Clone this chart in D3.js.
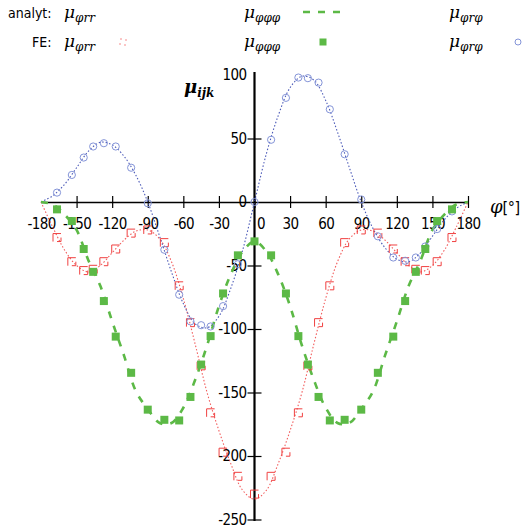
<!DOCTYPE html>
<html>
<head>
<meta charset="utf-8">
<script src="https://cdn.jsdelivr.net/npm/d3@7"></script>
<style>
body { margin: 0; background: white; }
svg { display: block; }
</style>
</head>
<body>
<svg id="chart" width="522" height="530"></svg>
<script>
//-------------------------------DATA---------------------------------------//

// analytic curves, sampled every 10 degrees
const phiLine = [-180,-170,-160,-150,-140,-130,-120,-110,-100,-90,-80,-70,-60,-50,-40,-30,-20,-10,0,
                 10,20,30,40,50,60,70,80,90,100,110,120,130,140,150,160,170,180]
const rrLine  = [0,-20,-38,-50,-55,-50,-40,-30,-23,-22,-29,-47,-76,-112,-150,-180,-206,-227,-234,
                 -227,-206,-180,-150,-112,-76,-47,-29,-22,-23,-30,-40,-50,-55,-50,-38,-20,0]
const pppLine = [0,-2,-10,-22,-46,-66,-94,-121,-149,-163,-174,-174,-162,-140,-113,-82,-57,-39,-31,
                 -39,-57,-82,-113,-140,-162,-174,-174,-163,-149,-121,-94,-66,-46,-22,-10,-2,0]
const rpLine  = [0,5,14,27,40,47,45,36,21,0,-27,-55,-80,-96,-99,-90,-68,-38,0,
                 38,68,90,99,96,80,55,27,0,-21,-36,-45,-47,-40,-27,-14,-5,0]

// finite element results
const phiFE = [-166.5,-154,-144,-136,-127,-117,-104,-90,-76,-63.5,-54,-45,-37,-26.5,-14,0,
               14,26.5,37,45,54,63.5,76,90,104,117,127,136,144,154,166.5]
const rrFE  = [-28,-47,-54,-53,-47,-37,-24.5,-22,-32,-66,-95,-129,-166,-197,-216,-230,
               -216,-197,-166,-129,-95,-66,-32,-22,-24.5,-37,-47,-53,-54,-47,-28]
const pppFE = [-5.8,-15,-37,-55,-78,-106,-134.5,-163.5,-171.5,-172,-153.5,-128,-105.6,-72,-42,-31,
               -42,-72,-105.6,-128,-153.5,-172,-171.5,-163.5,-134.5,-106,-78,-55,-37,-15,-5.8]
const rpFE  = [7.4,21.3,35,43.7,46.3,43.7,27,-1,-37.6,-73,-94,-97,-98,-82,-49,0,
               49,82,98,97.5,94,73,37.6,2,-27,-43.7,-46.3,-43.7,-35,-21.3,-7.4]

const xTicks = [-180,-150,-120,-90,-60,-30,0,30,60,90,120,150,180]
const yTicks = [100,50,0,-50,-100,-150,-200,-250]

//-------------------------------SETUP---------------------------------------//

const red = '#f04040', green = '#5cb946', blue = '#3848b0', blueLight = '#8494d8'
const numFont = '"DejaVu Sans Condensed", "DejaVu Sans", sans-serif'
const mathFont = '"DejaVu Serif", serif'

const svg = d3.select('#chart')

const x = d3.scaleLinear().domain([-180, 180]).range([41, 468])
const y = d3.scaleLinear().domain([-250, 100]).range([519.5, 75])

//-------------------------------AXES---------------------------------------//

const xAxis = svg.append('g')
    .attr('transform', 'translate(0,' + y(0) + ')')
    .call(d3.axisBottom(x).tickValues(xTicks).tickFormat(d => String(d)).tickSize(6).tickSizeOuter(0))

xAxis.select('.domain').attr('stroke', 'black').attr('stroke-width', 1.3)
xAxis.selectAll('.tick line')
    .attr('y1', -6).attr('y2', 6)
    .attr('stroke-width', 1.2)
    .attr('display', d => d === -180 ? 'none' : null)
xAxis.selectAll('.tick text')
    .attr('y', 22).attr('dy', '0.35em')
    .attr('x', d => d === 0 ? 6 : 0)
    .attr('font-family', numFont).attr('font-size', 15)
    .attr('letter-spacing', -0.6)
    .attr('fill', 'black')

const yAxis = svg.append('g')
    .attr('transform', 'translate(' + x(0) + ',0)')
    .call(d3.axisLeft(y).tickValues(yTicks).tickFormat(d => String(d)).tickSize(7).tickSizeOuter(0))

yAxis.select('.domain')
    .attr('d', 'M0,72V521')
    .attr('stroke', 'black').attr('stroke-width', 2.2)
yAxis.selectAll('.tick line')
    .attr('x1', 7).attr('x2', -7)
    .attr('stroke-width', 1.2)
    .attr('display', d => (d === 0 || d === 100) ? 'none' : null)
yAxis.selectAll('.tick text')
    .attr('x', -8)
    .attr('font-family', numFont).attr('font-size', 15)
    .attr('letter-spacing', -0.6)
    .attr('fill', 'black')

// axis labels
const phiLabel = svg.append('text')
    .attr('x', 490).attr('y', 213)
    .attr('font-size', 16)
phiLabel.append('tspan').attr('font-family', mathFont).attr('font-style', 'italic').attr('font-size', 18).text('φ')
phiLabel.append('tspan').attr('font-family', numFont).attr('letter-spacing', -0.5).text('[°]')

const muLabel = svg.append('text')
    .attr('x', 184).attr('y', 93)
    .attr('font-family', mathFont).attr('font-style', 'italic').attr('font-weight', 'bold')
muLabel.append('tspan').attr('font-size', 18).text('μ')
muLabel.append('tspan').attr('font-size', 12).attr('dy', 4).text('ijk')

//-------------------------------CURVES---------------------------------------//

const line = d3.line()
    .x(d => x(d[0]))
    .y(d => y(d[1]))
    .curve(d3.curveCatmullRom)

const series = [
    {line: rrLine, fe: rrFE, color: red, width: 1.1, dash: '1.5,2', opacity: 0.85},
    {line: rpLine, fe: rpFE, color: blue, width: 1.1, dash: '1.5,2', opacity: 0.9},
    {line: pppLine, fe: pppFE, color: green, width: 2.6, dash: '7,8', opacity: 1}
]

series.forEach(s => {
    svg.append('path')
        .datum(phiLine.map((p, i) => [p, s.line[i]]))
        .attr('d', line)
        .attr('fill', 'none')
        .attr('stroke', s.color)
        .attr('stroke-width', s.width)
        .attr('stroke-dasharray', s.dash)
        .attr('opacity', s.opacity)
})

// red open squares
svg.append('g')
    .selectAll('rect')
    .data(phiFE.map((p, i) => [p, rrFE[i]]))
    .enter()
    .append('rect')
    .attr('x', d => x(d[0]) - 4)
    .attr('y', d => y(d[1]) - 4)
    .attr('width', 8).attr('height', 8)
    .attr('fill', 'none')
    .attr('stroke', red)
    .attr('stroke-width', 1)
    .attr('stroke-dasharray', '8,4')

// blue open circles
svg.append('g')
    .selectAll('circle')
    .data(phiFE.map((p, i) => [p, rpFE[i]]))
    .enter()
    .append('circle')
    .attr('cx', d => x(d[0]))
    .attr('cy', d => y(d[1]))
    .attr('r', 3.6)
    .attr('fill', 'none')
    .attr('stroke', blueLight)
    .attr('stroke-width', 1)

// green filled squares
svg.append('g')
    .selectAll('rect')
    .data(phiFE.map((p, i) => [p, pppFE[i]]))
    .enter()
    .append('rect')
    .attr('x', d => x(d[0]) - 4)
    .attr('y', d => y(d[1]) - 4)
    .attr('width', 8).attr('height', 8)
    .attr('fill', green)

//-------------------------------LEGEND---------------------------------------//

const legend = svg.append('g')

function mu(xp, yp, sub) {
    const t = legend.append('text')
        .attr('x', xp).attr('y', yp)
        .attr('font-family', mathFont).attr('font-style', 'italic')
    t.append('tspan').attr('font-size', 17).text('μ')
    t.append('tspan').attr('font-size', 12).attr('dy', 4).text(sub)
}

legend.append('text')
    .attr('x', 8).attr('y', 18)
    .attr('font-family', numFont).attr('font-size', 14)
    .text('analyt:')
legend.append('text')
    .attr('x', 32).attr('y', 47)
    .attr('font-family', numFont).attr('font-size', 14)
    .text('FE:')

const subs = ['φrr', 'φφφ', 'φrφ']
const legX = [64, 244, 449]
subs.forEach((s, i) => {
    mu(legX[i], 18, s)
    mu(legX[i], 47, s)
})

legend.append('line')
    .attr('x1', 303).attr('x2', 343)
    .attr('y1', 12).attr('y2', 12)
    .attr('stroke', green).attr('stroke-width', 2.6)
    .attr('stroke-dasharray', '7,8')

legend.append('rect')
    .attr('x', 120).attr('y', 39).attr('width', 6).attr('height', 6)
    .attr('fill', 'none').attr('stroke', red).attr('stroke-width', 1)
    .attr('stroke-dasharray', '2,4').attr('opacity', 0.6)

legend.append('rect')
    .attr('x', 319.5).attr('y', 38.5).attr('width', 7).attr('height', 7)
    .attr('fill', green)

legend.append('circle')
    .attr('cx', 518).attr('cy', 42).attr('r', 3)
    .attr('fill', 'none').attr('stroke', blueLight).attr('stroke-width', 1)
</script>
</body>
</html>
